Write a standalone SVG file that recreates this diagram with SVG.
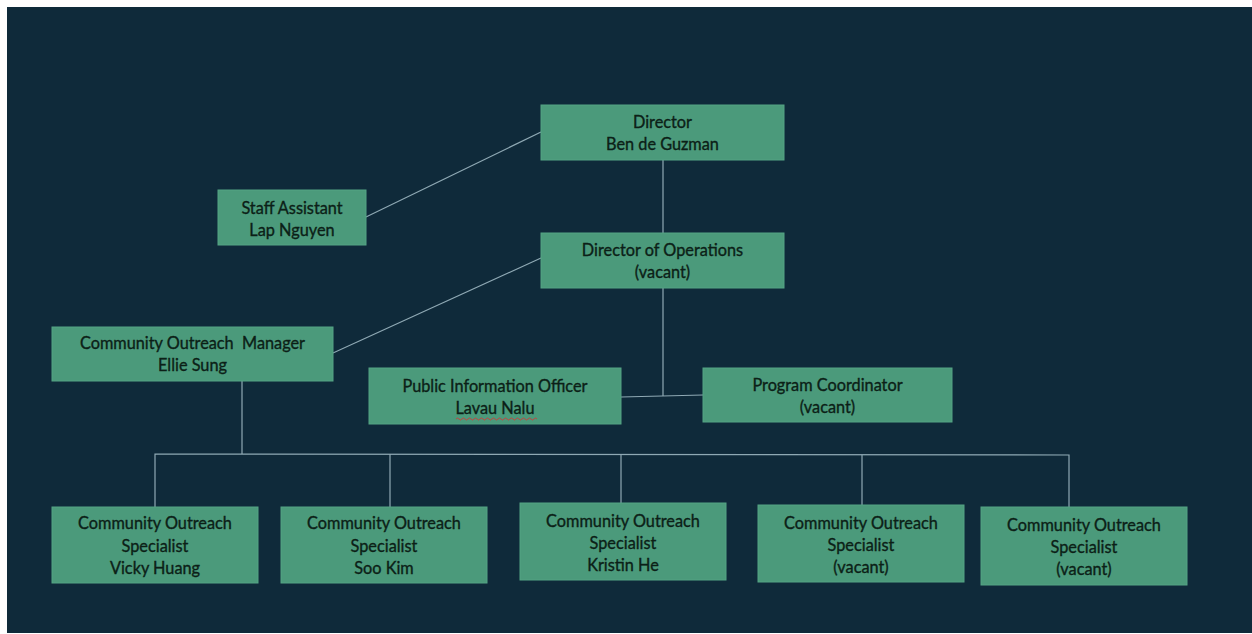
<svg xmlns="http://www.w3.org/2000/svg" width="1252" height="634" viewBox="0 0 1252 634">
<style>
.box{fill:#4b9a7b;stroke:#55a384;stroke-width:1}
.t{font-family:Lato,"Open Sans","Liberation Sans",sans-serif;font-size:16.3px;fill:#0c1f17;stroke:#0c1f17;stroke-width:0.35;text-anchor:middle}
.c{stroke:#8fa9b4;stroke-width:1.2;fill:none}
</style>
<rect x="0" y="0" width="1252" height="634" fill="#ffffff"/>
<rect x="7" y="7" width="1245" height="626" fill="#0f2a3a"/>
<g id="connectors">
<line class="c" x1="366" y1="217" x2="541" y2="132"/>
<line class="c" x1="663" y1="160" x2="663" y2="233"/>
<line class="c" x1="541" y1="258" x2="333" y2="353"/>
<line class="c" x1="663" y1="288" x2="663" y2="396"/>
<line class="c" x1="621" y1="397" x2="703" y2="395"/>
<line class="c" x1="242" y1="381" x2="242" y2="454"/>
<polyline class="c" points="155,507 155,454 1069,455 1069,507"/>
<line class="c" x1="390" y1="454" x2="390" y2="507"/>
<line class="c" x1="621" y1="454" x2="621" y2="503"/>
<line class="c" x1="862" y1="455" x2="862" y2="505"/>
</g>
<g id="director">
<rect class="box" x="541" y="105" width="243" height="55"/>
<text class="t" x="662.5" y="128">Director</text>
<text class="t" x="662.5" y="150">Ben de Guzman</text>
</g>
<g id="staff-assistant">
<rect class="box" x="218" y="190" width="148" height="55"/>
<text class="t" x="292" y="214">Staff Assistant</text>
<text class="t" x="292" y="236">Lap Nguyen</text>
</g>
<g id="director-operations">
<rect class="box" x="541" y="233" width="243" height="55"/>
<text class="t" x="662.5" y="256">Director of Operations</text>
<text class="t" x="662.5" y="278">(vacant)</text>
</g>
<g id="outreach-manager">
<rect class="box" x="52" y="327" width="281" height="54"/>
<text class="t" x="192.5" y="349" style="white-space:pre" xml:space="preserve">Community Outreach  Manager</text>
<text class="t" x="192.5" y="371">Ellie Sung</text>
</g>
<g id="public-information-officer">
<rect class="box" x="369" y="368" width="252" height="56"/>
<text class="t" x="495" y="392">Public Information Officer</text>
<text class="t" x="495" y="414">Lavau Nalu</text>
<path d="M456,419 q1.5,-2 3,0 t3,0 t3,0 t3,0 t3,0 t3,0 t3,0 t3,0 t3,0 t3,0 t3,0 t3,0 t3,0 t3,0 t3,0 t3,0 t3,0 t3,0 t3,0 t3,0 t3,0 t3,0 t3,0 t3,0 t3,0 t3,0 t3,0" fill="none" stroke="#d23a3a" stroke-width="0.9"/>
</g>
<g id="program-coordinator">
<rect class="box" x="703" y="368" width="249" height="54"/>
<text class="t" x="827.5" y="391">Program Coordinator</text>
<text class="t" x="827.5" y="413">(vacant)</text>
</g>
<g id="specialist-1">
<rect class="box" x="52" y="507" width="206" height="76"/>
<text class="t" x="155" y="529">Community Outreach</text>
<text class="t" x="155" y="552">Specialist</text>
<text class="t" x="155" y="574">Vicky Huang</text>
</g>
<g id="specialist-2">
<rect class="box" x="281" y="507" width="206" height="76"/>
<text class="t" x="384" y="529">Community Outreach</text>
<text class="t" x="384" y="552">Specialist</text>
<text class="t" x="384" y="574">Soo Kim</text>
</g>
<g id="specialist-3">
<rect class="box" x="520" y="503" width="206" height="77"/>
<text class="t" x="623" y="527">Community Outreach</text>
<text class="t" x="623" y="549">Specialist</text>
<text class="t" x="623" y="571">Kristin He</text>
</g>
<g id="specialist-4">
<rect class="box" x="758" y="505" width="206" height="77"/>
<text class="t" x="861" y="529">Community Outreach</text>
<text class="t" x="861" y="551">Specialist</text>
<text class="t" x="861" y="573">(vacant)</text>
</g>
<g id="specialist-5">
<rect class="box" x="981" y="507" width="206" height="78"/>
<text class="t" x="1084" y="531">Community Outreach</text>
<text class="t" x="1084" y="553">Specialist</text>
<text class="t" x="1084" y="575">(vacant)</text>
</g>
</svg>
